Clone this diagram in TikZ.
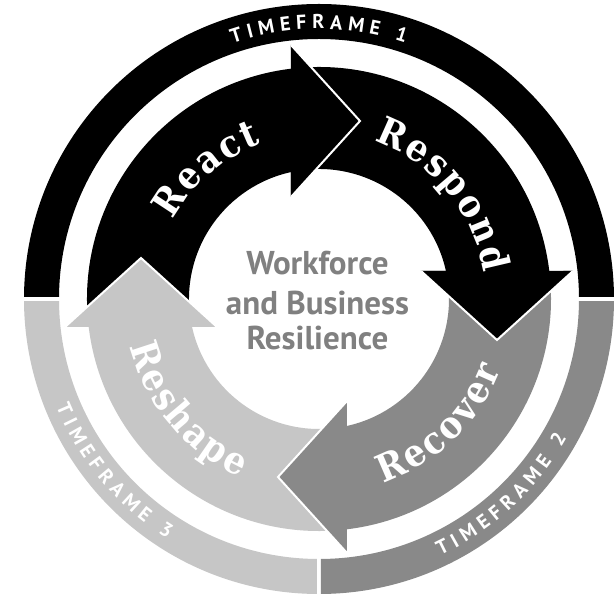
\documentclass[tikz,border=0pt]{standalone}
\usepackage{fontspec}
\usetikzlibrary{decorations.text}
\newfontfamily\ringfont{PT Sans}
\newfontfamily\slabfont{DejaVu Serif Condensed}
\definecolor{darkgrey}{HTML}{898989}
\definecolor{lightgrey}{HTML}{C6C6C6}
\definecolor{coregrey}{HTML}{808080}

% one cycle arrow (drawn for the top-left quarter, rotated for the others)
\newcommand\cyclearrow[1]{%
  \fill[#1] (186:232pt) arc[start angle=186, end angle=96.93, radius=232pt]
    -- (-28pt,254pt) -- (41pt,178pt) -- (-28pt,102pt)
    -- (102.44:130pt) arc[start angle=102.44, end angle=186, radius=130pt] -- cycle;}
% arrow head redrawn on top, with its white outline over the next tail
\newcommand\cyclehead[1]{%
  \fill[#1] (-28pt,254pt) -- (41pt,178pt) -- (-28pt,102pt) -- cycle;
  \draw[white, line width=2pt, miter limit=10] (-28pt,254pt) -- (41pt,178pt) -- (-28pt,102pt);}

\tikzset{
  ringtext/.style={decorate, decoration={text along path, text align=center, text color=white,
    text={|\ringfont\bfseries\fontsize{20}{20}\selectfont|#1}}},
  phasetext/.style={decorate, decoration={text along path, text align=center, text color=white,
    text={|\slabfont\bfseries\fontsize{38}{38}\selectfont|#1}}},
  coretext/.style={anchor=base, text=coregrey, font=\ringfont\bfseries\fontsize{33}{33}\selectfont, inner sep=0pt}
}

\begin{document}
\begin{tikzpicture}[x=1pt, y=1pt]
\useasboundingbox (-319,-297) rectangle (295,299);
\fill[white] (-319,-297) rectangle (295,299);

% outer timeframe ring, split in three
\begin{scope}
  \clip (-300,2.5) rectangle (300,300);
  \fill[black, even odd rule] (0,0) circle[radius=295pt] circle[radius=260pt];
\end{scope}
\begin{scope}
  \clip (2,-2.5) rectangle (300,-300);
  \fill[darkgrey, even odd rule] (0,0) circle[radius=295pt] circle[radius=260pt];
\end{scope}
\begin{scope}
  \clip (-300,-2.5) rectangle (-2,-300);
  \fill[lightgrey, even odd rule] (0,0) circle[radius=295pt] circle[radius=260pt];
\end{scope}

% ring labels (letter-spaced)
\path[ringtext={T{\kern5.5pt}I{\kern5.5pt}M{\kern5.5pt}E{\kern5.5pt}F{\kern5.5pt}R{\kern5.5pt}A{\kern5.5pt}M{\kern5.5pt}E{\kern5.5pt} {\kern5.5pt}1}]
  (140:270pt) arc[start angle=140, end angle=40, radius=270pt];
\path[ringtext={T{\kern5.5pt}I{\kern5.5pt}M{\kern5.5pt}E{\kern5.5pt}F{\kern5.5pt}R{\kern5.5pt}A{\kern5.5pt}M{\kern5.5pt}E{\kern5.5pt} {\kern5.5pt}2}]
  (-97:284pt) arc[start angle=-97, end angle=3, radius=284pt];
\path[ringtext={T{\kern5.5pt}I{\kern5.5pt}M{\kern5.5pt}E{\kern5.5pt}F{\kern5.5pt}R{\kern5.5pt}A{\kern5.5pt}M{\kern5.5pt}E{\kern5.5pt} {\kern5.5pt}3}]
  (170:284pt) arc[start angle=170, end angle=270, radius=284pt];

% the four cycle arrows
\cyclearrow{black}
\begin{scope}[rotate=-90] \cyclearrow{black} \end{scope}
\begin{scope}[rotate=-180] \cyclearrow{darkgrey} \end{scope}
\begin{scope}[rotate=-270] \cyclearrow{lightgrey} \end{scope}
\cyclehead{black}
\begin{scope}[rotate=-90] \cyclehead{black} \end{scope}
\begin{scope}[rotate=-180] \cyclehead{darkgrey} \end{scope}
\begin{scope}[rotate=-270] \cyclehead{lightgrey} \end{scope}

% arrow labels (slightly letter-spaced)
\path[phasetext={R{\kern2.5pt}e{\kern2.5pt}a{\kern2.5pt}c{\kern2.5pt}t}]
  (181:166pt) arc[start angle=181, end angle=81, radius=166pt];
\path[phasetext={R{\kern2.5pt}e{\kern2.5pt}s{\kern2.5pt}p{\kern2.5pt}o{\kern2.5pt}n{\kern2.5pt}d}]
  (90:167pt) arc[start angle=90, end angle=-10, radius=167pt];
\path[phasetext={R{\kern2.5pt}e{\kern2.5pt}c{\kern2.5pt}o{\kern2.5pt}v{\kern2.5pt}e{\kern2.5pt}r}]
  (-96:195pt) arc[start angle=-96, end angle=4, radius=195pt];
\path[phasetext={R{\kern2.5pt}e{\kern2.5pt}s{\kern2.5pt}h{\kern2.5pt}a{\kern2.5pt}p{\kern2.5pt}e}]
  (170:195pt) arc[start angle=170, end angle=270, radius=195pt];

% centre title
\node[coretext] (core1) at (-1.5,24) {Workforce};
\node[coretext] (core2) at (-1.5,-16) {and Business};
\node[coretext] (core3) at (-1.5,-51) {Resilience};
\end{tikzpicture}
\end{document}
